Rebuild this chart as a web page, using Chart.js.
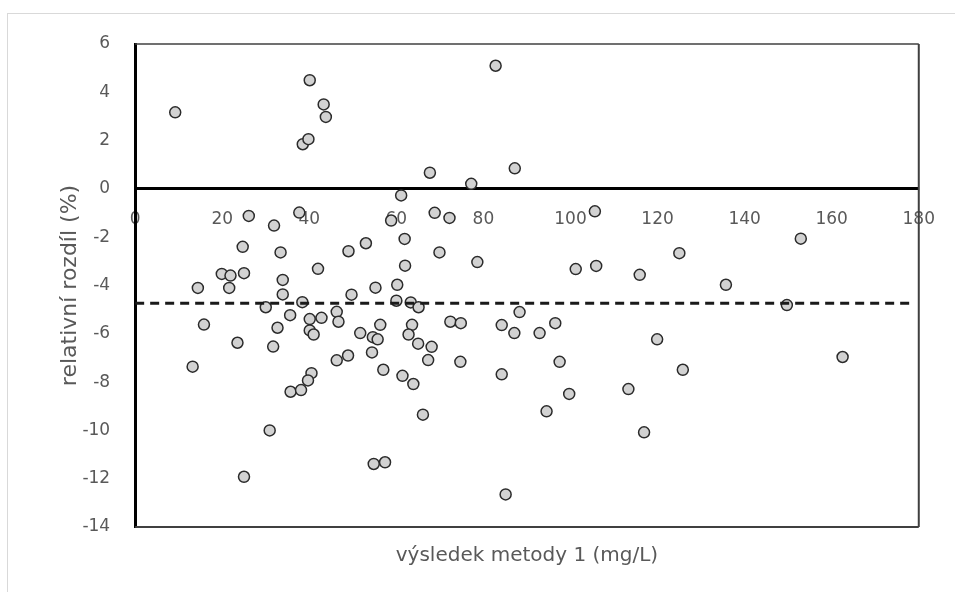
<!DOCTYPE html>
<html>
<head>
<meta charset="utf-8">
<script src="https://cdn.jsdelivr.net/npm/chart.js@4"></script>
<style>
  html, body { margin: 0; padding: 0; background: #fff; }
  #wrap { width: 955px; height: 592px; }
</style>
</head>
<body>
<div id="wrap"><canvas id="diffChart" width="955" height="592"></canvas></div>
<script>
// výsledek metody 1 (mg/L)
const methodOne = [
  9.2, 40.1, 43.3, 43.8, 38.5, 39.8, 67.7, 77.2, 61.1, 82.8, 87.2,
  26.1, 37.7, 31.9, 24.7, 33.4, 42.0, 19.9, 21.9, 25.0, 14.4, 21.6,
  33.9, 33.9, 38.4, 30.0, 35.6, 40.1, 42.8, 15.8, 32.7, 40.1, 41.0,
  23.5, 31.7, 13.2, 40.5, 39.7, 35.7, 38.1, 30.9, 25.0, 46.3, 46.7,
  49.7, 46.3, 48.9, 51.7, 54.6, 55.7, 56.3, 54.4, 57.0, 54.8, 57.4,
  60.0, 63.3, 65.1, 63.6, 62.8, 65.0, 68.1, 67.3, 61.4, 63.9, 66.1,
  72.4, 74.8, 74.7, 68.8, 72.2, 58.8, 61.9, 53.0, 49.0, 69.9, 62.0,
  78.6, 55.2, 60.2, 105.6, 101.2, 105.9, 115.9, 88.3, 84.2, 87.1, 92.9,
  96.5, 97.5, 84.2, 99.7, 94.5, 85.1, 119.9, 125.8, 113.3, 116.9, 149.7,
  162.5, 125.0, 135.7, 152.9
];
// relativní rozdíl (%)
const relDiff = [
  3.17, 4.50, 3.50, 2.98, 1.85, 2.06, 0.67, 0.21, -0.27, 5.10, 0.85,
  -1.12, -0.98, -1.52, -2.40, -2.63, -3.31, -3.52, -3.59, -3.49, -4.10, -4.10,
  -3.77, -4.37, -4.69, -4.90, -5.23, -5.39, -5.34, -5.62, -5.75, -5.86, -6.03,
  -6.37, -6.53, -7.36, -7.63, -7.93, -8.40, -8.33, -10.0, -11.92, -5.09, -5.50,
  -4.38, -7.10, -6.90, -5.97, -6.14, -6.23, -5.63, -6.77, -7.49, -11.39, -11.32,
  -4.63, -4.70, -4.90, -5.63, -6.03, -6.41, -6.54, -7.09, -7.74, -8.08, -9.35,
  -5.50, -5.56, -7.16, -0.99, -1.20, -1.31, -2.07, -2.25, -2.58, -2.63, -3.18,
  -3.03, -4.09, -3.97, -0.93, -3.32, -3.19, -3.56, -5.10, -5.64, -5.97, -5.97,
  -5.56, -7.16, -7.68, -8.49, -9.21, -12.65, -6.23, -7.49, -8.29, -10.08, -4.81,
  -6.96, -2.66, -3.97, -2.06
];
// průměrný rozdíl (čárkovaná čára)
const meanDiff = -4.73;
const meanSpan = [0, 178];

const xTickValues = [0, 20, 40, 60, 80, 100, 120, 140, 160, 180];
const yTickValues = [-14, -12, -10, -8, -6, -4, -2, 0, 2, 4, 6];

const grey = '#595959';

// light outer frame + plot box (top, right, bottom)
const framePlugin = {
  id: 'frame',
  beforeDraw(chart) {
    const c = chart.ctx;
    c.save();
    c.fillStyle = '#fff';
    c.fillRect(0, 0, chart.width, chart.height);
    c.strokeStyle = '#d9d9d9';
    c.lineWidth = 1;
    c.strokeRect(7.5, 13.5, chart.width + 10, chart.height + 10);
    c.restore();
  },
  beforeDatasetsDraw(chart) {
    const { left, right, top, bottom } = chart.chartArea;
    const c = chart.ctx;
    c.save();
    c.strokeStyle = '#404040';
    c.lineWidth = 1.5;
    c.beginPath();
    c.moveTo(left, top);
    c.lineTo(right, top);
    c.stroke();
    c.lineWidth = 2;
    c.beginPath();
    c.moveTo(right, top);
    c.lineTo(right, bottom);
    c.moveTo(left, bottom);
    c.lineTo(right, bottom);
    c.stroke();
    c.restore();
  }
};

const ctx = document.getElementById('diffChart').getContext('2d');

new Chart(ctx, {
  type: 'scatter',
  data: {
    datasets: [
      {
        label: 'průměr',
        type: 'line',
        data: meanSpan.map(x => ({ x, y: meanDiff })),
        borderColor: '#1a1a1a',
        borderWidth: 3,
        borderDash: [9, 6],
        pointRadius: 0,
        fill: false,
        order: 0
      },
      {
        label: 'relativní rozdíl',
        data: methodOne.map((x, i) => ({ x, y: relDiff[i] })),
        pointRadius: 5.5,
        pointBorderWidth: 1.5,
        pointBackgroundColor: '#d2d2d2',
        pointBorderColor: '#2b2b2b',
        order: 1
      }
    ]
  },
  options: {
    responsive: false,
    animation: false,
    layout: { padding: { left: 55, right: 32, top: 44, bottom: 24 } },
    plugins: {
      legend: { display: false },
      tooltip: { enabled: false }
    },
    scales: {
      x: {
        type: 'linear',
        position: { y: 0 },
        min: 0,
        max: 180,
        afterBuildTicks: s => { s.ticks = xTickValues.map(v => ({ value: v })); },
        grid: { display: false, drawTicks: false },
        border: { display: true, color: '#000', width: 3 },
        ticks: { color: grey, padding: 20, font: { family: 'DejaVu Sans', size: 17 } }
      },
      xb: {
        type: 'linear',
        position: 'bottom',
        min: 0,
        max: 180,
        grid: { display: false, drawTicks: false },
        border: { display: false },
        ticks: { display: false },
        title: {
          display: true,
          text: 'výsledek metody 1 (mg/L)',
          color: grey,
          padding: { top: 17, bottom: 0 },
          font: { family: 'DejaVu Sans', size: 20 }
        }
      },
      y: {
        type: 'linear',
        position: 'left',
        min: -14,
        max: 6,
        afterBuildTicks: s => { s.ticks = yTickValues.map(v => ({ value: v })); },
        grid: { display: false, drawTicks: false },
        border: { display: true, color: '#000', width: 3 },
        ticks: { color: grey, padding: 25, font: { family: 'DejaVu Sans', size: 17 } },
        title: {
          display: true,
          text: 'relativní rozdíl (%)',
          color: grey,
          padding: { top: 2, bottom: -26 },
          font: { family: 'DejaVu Sans', size: 22 }
        }
      }
    }
  },
  plugins: [framePlugin]
});
</script>
</body>
</html>
